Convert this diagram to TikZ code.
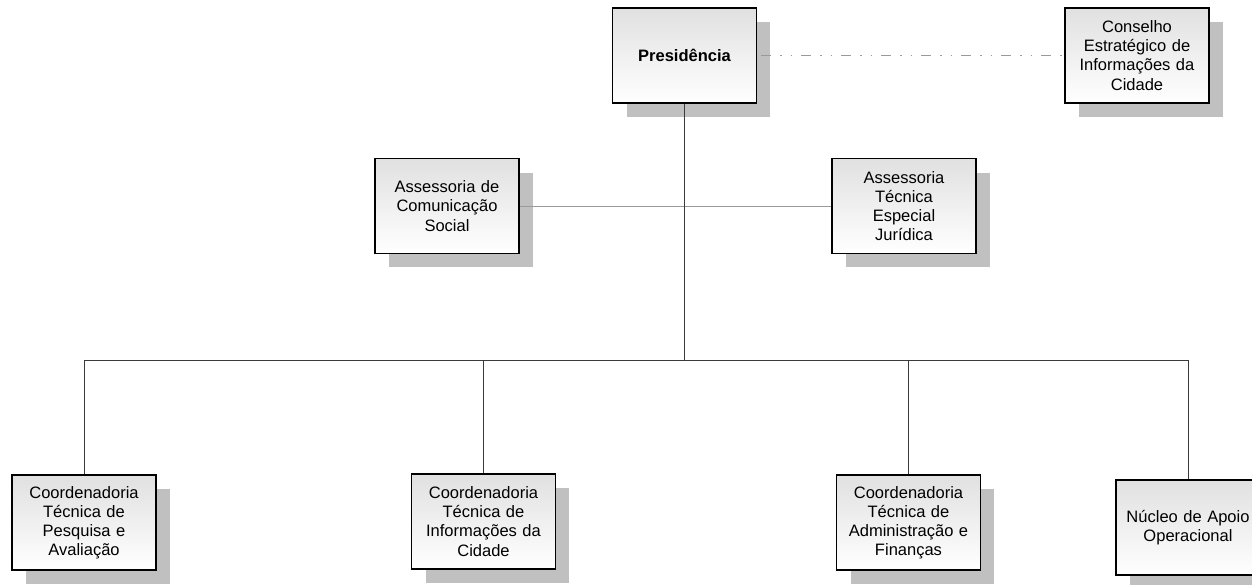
\documentclass[tikz,border=0pt]{standalone}
\usepackage{fontspec}
\setmainfont{Liberation Sans}
\usetikzlibrary{shadows}
\definecolor{shade}{HTML}{C0C0C0}
\definecolor{wire}{HTML}{3A3A3A}
\definecolor{faint}{HTML}{9A9A9A}

\begin{document}
\begin{tikzpicture}[x=0.02cm,y=-0.02cm,
  unit/.style={draw=black, line width=0.8pt, top color=black!12, bottom color=white,
    minimum width=2.88cm, minimum height=1.9cm, inner sep=0pt,
    text width=2.8cm, align=center, font=\fontsize{9.4}{10.9}\selectfont,
    general shadow={fill=shade, shadow xshift=0.28cm, shadow yshift=-0.28cm}},
  link/.style={draw=wire, line width=0.5pt},
  advise/.style={draw=faint, line width=0.5pt, dash pattern=on 0.2cm off 0.18cm on 0.03cm off 0.18cm on 0.03cm off 0.18cm}]
  \clip (0,0) rectangle (1252,585);
  \useasboundingbox (0,0) rectangle (1252,585);
  % top level
  \node[unit, font=\fontsize{9.4}{10.9}\selectfont\bfseries] (pres) at (684.5,55.5) {Presidência};
  \node[unit] (cons) at (1137,55.5) {Conselho\\Estratégico de\\Informações da\\Cidade};
  % advisory units
  \node[unit] (acs) at (447,206) {Assessoria de\\Comunicação\\Social};
  \node[unit] (ate) at (904,206) {Assessoria\\Técnica\\Especial\\Jurídica};
  % coordinations
  \node[unit] (cpa) at (84,522.5) {Coordenadoria\\Técnica de\\Pesquisa e\\Avaliação};
  \node[unit] (cic) at (483.5,521.5) {Coordenadoria\\Técnica de\\Informações da\\Cidade};
  \node[unit] (caf) at (908.5,522.5) {Coordenadoria\\Técnica de\\Administração e\\Finanças};
  \node[unit] (nao) at (1188,527.5) {Núcleo de Apoio\\Operacional};
  \coordinate (bus) at (684.5,360);
  % connectors
  \draw[advise] (pres.east) ++(4,0) -- (cons.west);
  \draw[link, draw=faint] (acs.east) -- (ate.west);
  \draw[link] (pres.south) -- (bus);
  \draw[link] (cpa.north |- bus) -- (nao.north |- bus);
  \foreach \u in {cpa,cic,caf,nao}
    \draw[link] (\u.north |- bus) -- (\u.north);
\end{tikzpicture}
\end{document}
